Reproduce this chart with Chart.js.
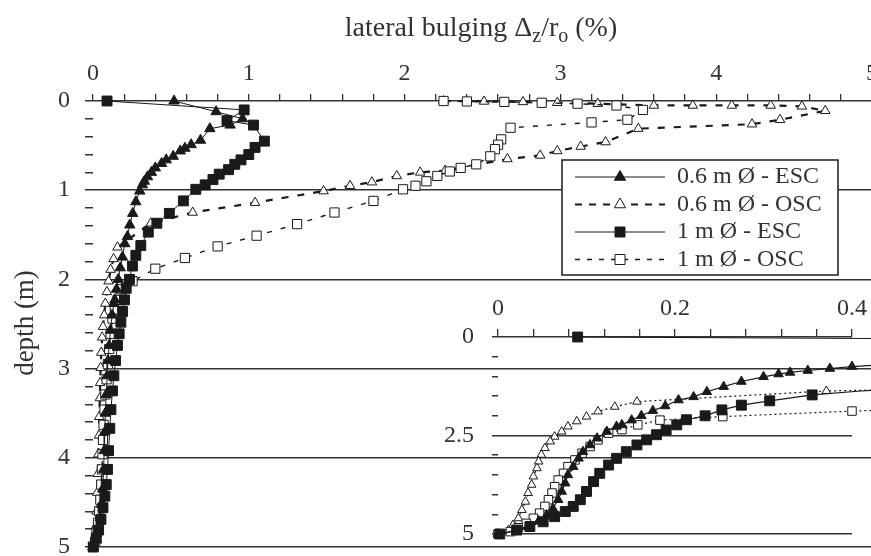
<!DOCTYPE html>
<html>
<head>
<meta charset="utf-8">
<script src="https://cdn.jsdelivr.net/npm/chart.js@4.4.1/dist/chart.umd.min.js"></script>
<style>
  html, body { margin: 0; padding: 0; background: #fff; overflow: hidden; }
  #wrap { position: relative; width: 871px; height: 556px; overflow: hidden; }
  #main { position: absolute; left: 0; top: 0; }
  #inset { position: absolute; left: 430px; top: 290px; }
</style>
</head>
<body>
<div id="wrap">
  <canvas id="main" width="880" height="556"></canvas>
  <canvas id="inset" width="450" height="266"></canvas>
</div>
<script>
// depth (m) and lateral bulging (%)
const esc06Depth = [0, 0.12, 0.2, 0.27, 0.31, 0.44, 0.49, 0.53, 0.56, 0.62, 0.66, 0.70, 0.75, 0.80, 0.85, 0.90, 0.94, 1.01, 1.13, 1.26, 1.39, 1.52, 1.6, 1.75, 1.87, 2.0, 2.11, 2.23, 2.27, 2.40, 2.57, 2.74, 2.91, 3.08, 3.29, 3.50, 3.71, 3.92, 4.13, 4.35, 4.52, 4.67, 4.81, 4.92, 5.0];
const esc06Bulge = [0.52, 0.79, 0.96, 0.88, 0.75, 0.69, 0.63, 0.59, 0.56, 0.515, 0.47, 0.44, 0.40, 0.375, 0.35, 0.33, 0.317, 0.30, 0.275, 0.255, 0.236, 0.221, 0.204, 0.189, 0.175, 0.162, 0.151, 0.14, 0.134, 0.123, 0.112, 0.104, 0.096, 0.091, 0.085, 0.079, 0.076, 0.072, 0.068, 0.062, 0.055, 0.046, 0.034, 0.021, 0];

const osc06Depth = [0, 0.005, 0.01, 0.02, 0.03, 0.05, 0.05, 0.05, 0.05, 0.06, 0.11, 0.21, 0.26, 0.31, 0.46, 0.51, 0.56, 0.61, 0.65, 0.78, 0.80, 0.84, 0.91, 0.95, 1.01, 1.14, 1.25, 1.37, 1.64, 1.77, 1.89, 2.02, 2.14, 2.27, 2.40, 2.53, 2.65, 2.82, 2.99, 3.16, 3.33, 3.54, 3.75, 3.96, 4.18, 4.39, 4.60, 4.77, 4.90, 5.0];
const osc06Bulge = [2.25, 2.51, 2.76, 2.98, 3.24, 3.6, 3.85, 4.1, 4.35, 4.55, 4.70, 4.41, 4.23, 3.50, 3.29, 3.13, 2.98, 2.87, 2.66, 2.26, 2.10, 1.95, 1.79, 1.65, 1.48, 1.04, 0.64, 0.371, 0.157, 0.132, 0.113, 0.10, 0.089, 0.079, 0.072, 0.064, 0.059, 0.053, 0.049, 0.046, 0.044, 0.040, 0.038, 0.034, 0.031, 0.027, 0.023, 0.017, 0.012, 0];

const esc10Depth = [0, 0.1, 0.22, 0.27, 0.45, 0.52, 0.6, 0.66, 0.71, 0.77, 0.82, 0.88, 0.94, 0.99, 1.12, 1.26, 1.37, 1.47, 1.62, 1.73, 1.85, 2.0, 2.1, 2.23, 2.36, 2.48, 2.61, 2.74, 2.91, 3.08, 3.25, 3.46, 3.67, 3.92, 4.13, 4.30, 4.43, 4.56, 4.69, 4.81, 4.90, 5.0];
const esc10Bulge = [0.09, 0.97, 0.86, 1.03, 1.1, 1.04, 1.0, 0.95, 0.91, 0.87, 0.81, 0.77, 0.72, 0.66, 0.58, 0.49, 0.41, 0.355, 0.307, 0.275, 0.253, 0.234, 0.213, 0.202, 0.19, 0.179, 0.168, 0.157, 0.145, 0.134, 0.125, 0.115, 0.108, 0.10, 0.093, 0.085, 0.076, 0.064, 0.051, 0.036, 0.021, 0.002];

const osc10Depth = [0, 0.005, 0.01, 0.02, 0.03, 0.05, 0.10, 0.21, 0.24, 0.30, 0.43, 0.49, 0.54, 0.62, 0.71, 0.75, 0.79, 0.84, 0.90, 0.95, 0.99, 1.12, 1.25, 1.38, 1.51, 1.63, 1.76, 1.88, 2.02, 2.11, 2.23, 2.35, 2.44, 2.61, 2.78, 2.95, 3.12, 3.29, 3.46, 3.63, 3.80, 3.96, 4.13, 4.30, 4.47, 4.60, 4.73, 4.84, 4.94, 5.0];
const osc10Bulge = [2.25, 2.40, 2.64, 2.88, 3.11, 3.36, 3.53, 3.43, 3.20, 2.68, 2.62, 2.60, 2.58, 2.55, 2.46, 2.36, 2.29, 2.21, 2.14, 2.07, 1.99, 1.80, 1.55, 1.31, 1.05, 0.80, 0.59, 0.40, 0.254, 0.183, 0.158, 0.14, 0.125, 0.113, 0.104, 0.095, 0.087, 0.079, 0.074, 0.068, 0.064, 0.061, 0.057, 0.053, 0.047, 0.040, 0.032, 0.023, 0.014, 0];

const seriesLabels = ['0.6 m Ø - ESC', '0.6 m Ø - OSC', '1 m Ø - ESC', '1 m Ø - OSC'];
const mainTicks = [0, 1, 2, 3, 4, 5];
const insetXTicks = [0, 0.2, 0.4];
const insetYTicks = [0, 2.5, 5];

const INK = '#1a1a1a';
const TEXT = '#333';
const FONT = 'Liberation Serif';

function pts(bulge, depth) {
  return bulge.map((v, i) => ({ x: v, y: depth[i] }));
}
function near(v, list) {
  return list.some(t => Math.abs(v - t) < 1e-6);
}
function tickText(v, list) {
  const hit = list.find(t => Math.abs(v - t) < 1e-6);
  return hit === undefined ? '' : String(hit);
}

const styles = [
  { bulge: esc06Bulge, depth: esc06Depth, shape: 'triangle', filled: true,  r: 6,   ri: 5.5, width: 1,   dash: [],     dashIn: [],     order: 1 },
  { bulge: osc06Bulge, depth: osc06Depth, shape: 'triangle', filled: false, r: 5.5, ri: 5,   width: 2.2, dash: [7, 9], dashIn: [2, 3], order: 3 },
  { bulge: esc10Bulge, depth: esc10Depth, shape: 'rect',     filled: true,  r: 7,   ri: 7,   width: 1,   dash: [],     dashIn: [],     order: 0 },
  { bulge: osc10Bulge, depth: osc10Depth, shape: 'rect',     filled: false, r: 6.5, ri: 6,   width: 1.4, dash: [5, 9], dashIn: [2, 3], order: 2 }
];

function makeSets(inset) {
  return styles.map((s, i) => ({
    label: seriesLabels[i],
    data: pts(s.bulge, s.depth),
    borderColor: INK,
    borderWidth: inset ? 1.2 : s.width,
    borderDash: inset ? s.dashIn : s.dash,
    pointStyle: s.shape,
    pointRadius: inset ? s.ri : s.r,
    pointBackgroundColor: s.filled ? INK : '#fff',
    pointBorderColor: INK,
    pointBorderWidth: 1,
    tension: 0,
    fill: false,
    order: s.order,
    clip: inset ? { left: 8, top: 8, right: 20, bottom: 8 } : 10
  }));
}

function drawMark(ctx, shape, filled, x, y) {
  ctx.beginPath();
  if (shape === 'triangle') {
    const r = 6.5;
    ctx.moveTo(x, y - r);
    ctx.lineTo(x + r * 0.866, y + r * 0.5);
    ctx.lineTo(x - r * 0.866, y + r * 0.5);
    ctx.closePath();
  } else {
    ctx.rect(x - 5, y - 5, 10, 10);
  }
  ctx.setLineDash([]);
  ctx.lineWidth = 1;
  ctx.fillStyle = filled ? INK : '#fff';
  ctx.fill();
  ctx.strokeStyle = INK;
  ctx.stroke();
}

const decorations = {
  id: 'decorations',
  afterDraw(chart) {
    const ctx = chart.ctx;
    ctx.save();
    // axis title with subscripts
    const big = '24px "' + FONT + '"';
    const head = '28px "' + FONT + '"';
    const sub = '20px "' + FONT + '"';
    const parts = [['lateral bulging Δ', 0], ['z', 1], ['/r', 0], ['o', 1], [' (%)', 0]];
    let total = 0;
    parts.forEach(p => { ctx.font = p[1] ? sub : head; total += ctx.measureText(p[0]).width; });
    let x = 481 - total / 2;
    ctx.fillStyle = TEXT;
    ctx.textBaseline = 'alphabetic';
    ctx.textAlign = 'left';
    parts.forEach(p => {
      ctx.font = p[1] ? sub : head;
      ctx.fillText(p[0], x, p[1] ? 42 : 36);
      x += ctx.measureText(p[0]).width;
    });
    // y title
    ctx.save();
    ctx.translate(33, 323);
    ctx.rotate(-Math.PI / 2);
    ctx.font = '27px "' + FONT + '"';
    ctx.textAlign = 'center';
    ctx.textBaseline = 'alphabetic';
    ctx.fillText('depth (m)', 0, 0);
    ctx.restore();
    // legend box
    const bx = 562, by = 160, bw = 276, bh = 115;
    ctx.fillStyle = '#fff';
    ctx.fillRect(bx, by, bw, bh);
    ctx.lineWidth = 1.5;
    ctx.strokeStyle = INK;
    ctx.setLineDash([]);
    ctx.strokeRect(bx, by, bw, bh);
    styles.forEach((s, i) => {
      const y = by + 17 + i * 27.5;
      ctx.beginPath();
      ctx.lineWidth = s.width;
      ctx.setLineDash(s.dash.length ? [s.dash[0], s.dash[1] - 2] : []);
      ctx.moveTo(575, y);
      ctx.lineTo(665, y);
      ctx.strokeStyle = INK;
      ctx.stroke();
      drawMark(ctx, s.shape, s.filled, 620, y);
      ctx.fillStyle = TEXT;
      ctx.font = big;
      ctx.textAlign = 'left';
      ctx.textBaseline = 'middle';
      ctx.fillText(seriesLabels[i], 677, y);
    });
    ctx.restore();
  }
};

const tickFont = { family: FONT, size: 24 };

new Chart(document.getElementById('main'), {
  type: 'line',
  data: { datasets: makeSets(false) },
  options: {
    responsive: false,
    animation: false,
    events: [],
    layout: { padding: { left: 0, top: 0, right: 8, bottom: 9 } },
    plugins: { legend: { display: false }, tooltip: { enabled: false } },
    scales: {
      x: {
        type: 'linear', position: 'top', min: 0, max: 5,
        afterFit(s) { s.height = 101; s.paddingLeft = 0; s.paddingRight = 0; },
        border: { display: false },
        grid: { drawOnChartArea: false, tickLength: 7, color: TEXT, lineWidth: 1.3 },
        ticks: { stepSize: 0.2, autoSkip: false, maxRotation: 0, padding: 6, color: TEXT, font: tickFont,
                 callback: v => tickText(v, mainTicks) }
      },
      y: {
        type: 'linear', reverse: true, min: 0, max: 5,
        afterFit(s) { s.width = 93; s.paddingTop = 0; s.paddingBottom = 0; },
        border: { display: false },
        grid: { tickLength: 8, lineWidth: 1.5, tickColor: TEXT,
                color: c => near(c.tick.value, mainTicks) ? TEXT : 'rgba(0,0,0,0)' },
        ticks: { stepSize: 0.2, autoSkip: false, padding: 15, color: TEXT, font: tickFont,
                 callback: v => tickText(v, mainTicks) }
      }
    }
  },
  plugins: [decorations]
});

new Chart(document.getElementById('inset'), {
  type: 'line',
  data: { datasets: makeSets(true) },
  options: {
    responsive: false,
    animation: false,
    events: [],
    layout: { padding: { left: 0, top: 0, right: 28, bottom: 22 } },
    plugins: { legend: { display: false }, tooltip: { enabled: false } },
    scales: {
      x: {
        type: 'linear', position: 'top', min: 0, max: 0.4,
        afterFit(s) { s.height = 47; s.paddingLeft = 0; s.paddingRight = 0; },
        border: { display: false },
        grid: { drawOnChartArea: false, tickLength: 8, color: TEXT, lineWidth: 1.3 },
        ticks: { stepSize: 0.04, autoSkip: false, maxRotation: 0, padding: 6, color: TEXT, font: tickFont,
                 callback: v => tickText(v, insetXTicks) }
      },
      y: {
        type: 'linear', reverse: true, min: 0, max: 5,
        afterFit(s) { s.width = 68; s.paddingTop = 0; s.paddingBottom = 0; },
        border: { display: false },
        grid: { tickLength: 6, lineWidth: 1.5, tickColor: TEXT,
                color: c => near(c.tick.value, insetYTicks) ? TEXT : 'rgba(0,0,0,0)' },
        ticks: { stepSize: 0.5, autoSkip: false, padding: 18, color: TEXT, font: tickFont,
                 callback: v => tickText(v, insetYTicks) }
      }
    }
  }
});
</script>
</body>
</html>
